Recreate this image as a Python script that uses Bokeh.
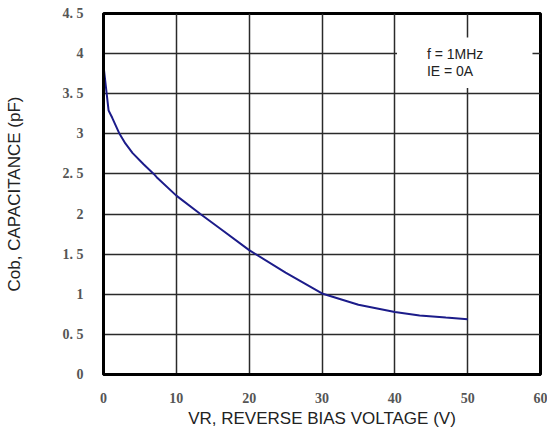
from bokeh.plotting import figure
from bokeh.models import Label, BoxAnnotation, FixedTicker
from bokeh.embed import file_html
from bokeh.resources import INLINE

# Collector output capacitance vs reverse bias voltage
vr = [0, 0.7, 1.2, 2.2, 3, 4, 5.5, 6.9, 7.3, 10, 13.3, 16, 20, 25, 30, 35, 40, 43.4, 47, 50]
cob = [3.85, 3.29, 3.2, 3.0, 2.88, 2.76, 2.62, 2.5, 2.46, 2.23, 2.0, 1.82, 1.55, 1.27, 1.01, 0.87, 0.78, 0.735, 0.71, 0.69]

x_ticks = [0, 10, 20, 30, 40, 50, 60]
y_ticks = [0, 0.5, 1, 1.5, 2, 2.5, 3, 3.5, 4, 4.5]
y_tick_labels = ["0", "0. 5", "1", "1. 5", "2", "2. 5", "3", "3. 5", "4", "4. 5"]

p = figure(width=547, height=430, x_range=(0, 60), y_range=(0, 4.5),
           output_backend="svg", toolbar_location=None,
           min_border_left=103, min_border_right=7,
           min_border_top=13, min_border_bottom=56)
p.background_fill_color = "white"
p.border_fill_color = "white"
p.outline_line_color = "black"
p.outline_line_width = 3

p.xaxis.ticker = FixedTicker(ticks=x_ticks)
p.yaxis.ticker = FixedTicker(ticks=y_ticks)
p.yaxis.major_label_overrides = {t: s for t, s in zip(y_ticks, y_tick_labels)}

for ax in (p.xaxis[0], p.yaxis[0]):
    ax.axis_line_width = 3
    ax.axis_line_color = "black"
    ax.major_tick_line_color = None
    ax.minor_tick_line_color = None
    ax.major_label_text_font = "Liberation Serif"
    ax.major_label_text_font_style = "bold"
    ax.major_label_text_color = "#555555"
    ax.major_label_text_font_size = "14px"
    ax.axis_label_text_font = "Liberation Sans"
    ax.axis_label_text_font_style = "normal"
    ax.axis_label_text_font_size = "17px"
    ax.axis_label_text_color = "#222222"

p.xaxis.axis_label = "VR, REVERSE BIAS VOLTAGE (V)"
p.yaxis.axis_label = "Cob, CAPACITANCE (pF)"
p.xaxis.major_label_standoff = 12
p.xaxis.axis_label_standoff = 3
p.yaxis.major_label_standoff = 14
p.yaxis.axis_label_standoff = 36

p.grid.grid_line_color = "#2a2a2a"
p.grid.grid_line_width = 1.5
p.xgrid.ticker = FixedTicker(ticks=x_ticks)
p.ygrid.ticker = FixedTicker(ticks=y_ticks)

# white panel behind the test conditions
p.add_layout(BoxAnnotation(left=40.3, right=58.9, bottom=3.57, top=4.2,
                           fill_color="white", fill_alpha=1.0, line_alpha=0))
p.add_layout(Label(x=44.4, y=4.0, text="f = 1MHz", text_font="Liberation Sans",
                   text_font_size="14px", text_color="#222222",
                   text_baseline="middle"))
p.add_layout(Label(x=44.4, y=3.78, text="IE = 0A", text_font="Liberation Sans",
                   text_font_size="14px", text_color="#222222",
                   text_baseline="middle"))

p.line(vr, cob, line_color="#1c1c8a", line_width=2)

open("out.html", "w").write(file_html(p, INLINE))
